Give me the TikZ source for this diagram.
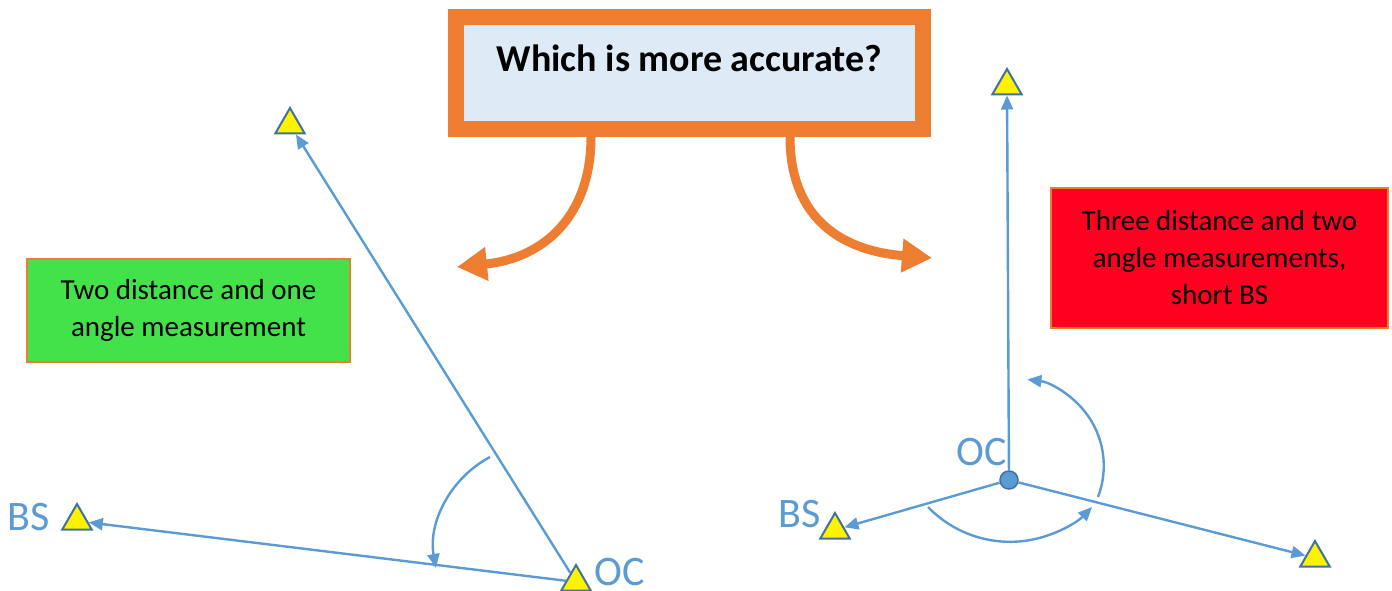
\documentclass[tikz,border=0pt]{standalone}
\usepackage{fontspec}
\setmainfont{Carlito}
\usetikzlibrary{positioning,arrows.meta,shapes.geometric}

\definecolor{ppOrange}{HTML}{ED7D31}
\definecolor{paleBlue}{HTML}{DEEBF7}
\definecolor{lineBlue}{HTML}{5B9BD5}
\definecolor{edgeBlue}{HTML}{41719C}
\definecolor{noteGreen}{HTML}{44E24A}
\definecolor{noteRed}{HTML}{FF0020}

\begin{document}
\begin{tikzpicture}[x=1pt, y=-1pt,
  station/.style={regular polygon, regular polygon sides=3, draw=edgeBlue, fill=yellow, line width=2pt, inner sep=0pt, minimum size=34pt},
  sight/.style={draw=lineBlue, line width=2.4pt, -{Triangle[length=14pt,width=12pt]}},
  bendarrow/.style={draw=ppOrange, line width=9pt, -{Triangle[length=30pt,width=32pt]}},
  tag/.style={text=lineBlue, font=\fontsize{42}{44}\selectfont, inner sep=0pt},
  note/.style={draw=ppOrange, line width=2pt, align=center, inner sep=0pt, font=\fontsize{29}{37}\selectfont}]
  \useasboundingbox (0,0) rectangle (1392,591);

  % question box
  \node (question) [draw=ppOrange, line width=16pt, fill=paleBlue, minimum width=467pt, inner sep=0pt,
    text height=55pt, text depth=57pt, font=\bfseries\fontsize{38}{40}\selectfont] at (689.5,73) {Which is more accurate?};
  \coordinate (leftTip) at (457,267);
  \coordinate (rightTip) at (932,258);
  \draw[bendarrow] ([xshift=-98.5pt]question.south) .. controls (591,215) and (545,258) .. (leftTip);
  \draw[bendarrow] ([xshift=100.5pt]question.south) .. controls (790,210) and (832,250) .. (rightTip);

  % notes
  \node (twoDist) [note, fill=noteGreen, minimum width=323pt, minimum height=103pt] at (188.5,310.5) {Two distance and one\\angle measurement};
  \node (threeDist) [note, fill=noteRed, minimum width=337pt, minimum height=140pt] at (1219.5,258) {Three distance and two\\angle measurements,\\short BS};

  % left setup
  \node (ocL) [station] at (576,582) {};
  \node (bsL) [station] at (77,521) {};
  \node (fsL) [station] at (290,125) {};
  \node (ocLtag) [tag] at (620,572) {OC};
  \node (bsLtag) [tag] at (29,517) {BS};
  \draw[sight] (ocL) -- (bsL);
  \draw[sight] (ocL) -- (fsL);
  \draw[sight] (490,457) arc[start angle=242, end angle=170, radius=105];

  % right setup
  \node (ocR) [circle, draw=edgeBlue, fill=lineBlue, line width=1.5pt, minimum size=18pt, inner sep=0pt] at (1009,480) {};
  \node (fsR) [station] at (1007,86) {};
  \node (bsR) [station] at (835,530) {};
  \node (pR) [station] at (1315,558) {};
  \node (ocRtag) [tag] at (982,452) {OC};
  \node (bsRtag) [tag] at (800,514) {BS};
  \draw[sight] (ocR) -- (fsR);
  \draw[sight] (ocR) -- (bsR);
  \draw[sight] (ocR) -- (pR);
  \draw[sight] (1098,497) arc[start angle=21, end angle=-83, radius=87];
  \draw[sight] (928,507) arc[start angle=136, end angle=44, radius=114];
\end{tikzpicture}
\end{document}
